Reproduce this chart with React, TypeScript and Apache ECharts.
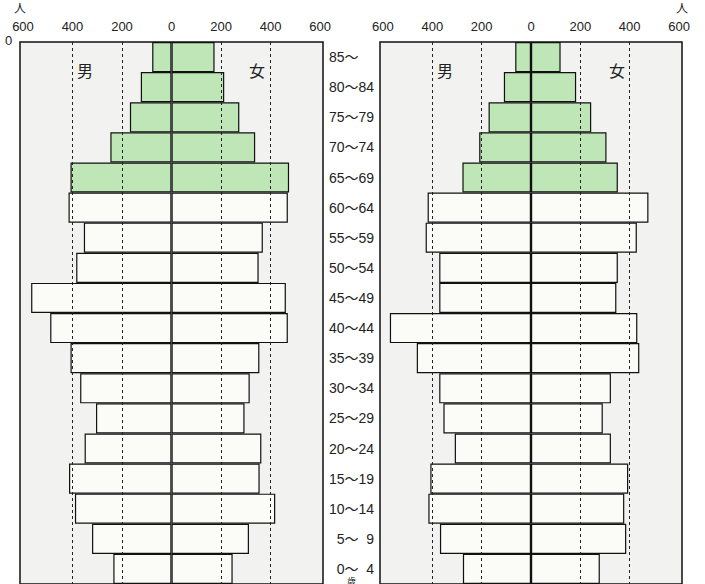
import React, { useEffect, useRef } from "react";
import * as echarts from "echarts";

// Age groups, top to bottom
const ages = [
  "85～", "80～84", "75～79", "70～74", "65～69", "60～64", "55～59", "50～54",
  "45～49", "40～44", "35～39", "30～34", "25～29", "20～24", "15～19", "10～14",
  "\u20075～\u20079", "\u20070～\u20074",
];
// Rows drawn in green (65 and over)
const elderly = [true, true, true, true, true, false, false, false, false, false, false, false, false, false, false, false, false, false];

// Left pyramid (persons)
const leftMale = [78, 124, 168, 247, 408, 416, 354, 385, 567, 490, 408, 369, 305, 351, 414, 390, 321, 235];
const leftFemale = [174, 213, 274, 338, 475, 470, 369, 352, 462, 470, 355, 316, 295, 363, 356, 419, 313, 247];
// Right pyramid (persons)
const rightMale = [64, 110, 172, 210, 278, 419, 427, 372, 372, 572, 463, 372, 355, 309, 408, 416, 369, 276];
const rightFemale = [120, 183, 244, 306, 352, 476, 429, 352, 346, 431, 439, 324, 291, 324, 394, 378, 386, 279];

const tickValues = [-600, -400, -200, 0, 200, 400, 600];
const gridValues = [-400, -200, 200, 400];

const GREEN = "#bfe6b6";
const WHITE = "#fbfbf7";
const FONT = "'Liberation Sans', 'Noto Sans CJK JP', sans-serif";
const JP = "'Noto Sans CJK JP', sans-serif";

function toData(vals: number[], sign: number) {
  return vals.map((v, i) => ({
    value: sign * v,
    itemStyle: { color: elderly[i] ? GREEN : WHITE },
  }));
}

export default function App() {
  const ref = useRef<HTMLDivElement>(null);
  useEffect(() => {
    if (!ref.current) return;
    const chart = echarts.init(ref.current, undefined, { renderer: "svg" });
    const xAxisBase = (gridIndex: number) => ({
      type: "value" as const,
      gridIndex,
      position: "top" as const,
      min: -612,
      max: 612,
      axisLine: { show: false },
      axisTick: { show: false },
      splitLine: { show: false },
      axisLabel: {
        customValues: tickValues,
        formatter: (v: number) => String(Math.abs(v)),
        color: "#222",
        fontSize: 13,
        fontFamily: FONT,
        margin: 9,
      },
    });
    const barStyle = { borderColor: "#111", borderWidth: 1.2 };
    const markLine = {
      silent: true,
      symbol: "none",
      label: { show: false },
      lineStyle: { color: "#222", type: [3, 3] as any, width: 1 },
      data: gridValues.map((v) => ({ xAxis: v })),
    };
    chart.setOption({
      animation: false,
      backgroundColor: "#ffffff",
      grid: [
        { left: 20, top: 42, width: 303, height: 543, show: true, backgroundColor: "#f2f3f1", borderColor: "#111", borderWidth: 1.5 },
        { left: 380, top: 42, width: 302, height: 543, show: true, backgroundColor: "#f2f3f1", borderColor: "#111", borderWidth: 1.5 },
      ],
      xAxis: [xAxisBase(0), xAxisBase(1)],
      yAxis: [
        {
          type: "category",
          gridIndex: 0,
          data: ages,
          inverse: true,
          position: "right",
          axisLine: { show: false },
          axisTick: { show: false },
          axisLabel: { align: "left", margin: 6, color: "#222", fontSize: 14, fontFamily: FONT },
        },
        {
          type: "category",
          gridIndex: 1,
          data: ages,
          inverse: true,
          axisLine: { show: false },
          axisTick: { show: false },
          axisLabel: { show: false },
        },
      ],
      series: [
        { type: "bar", xAxisIndex: 0, yAxisIndex: 0, stack: "L", barCategoryGap: "0%", data: toData(leftMale, -1), itemStyle: barStyle },
        { type: "bar", xAxisIndex: 0, yAxisIndex: 0, stack: "L", barCategoryGap: "0%", data: toData(leftFemale, 1), itemStyle: barStyle, markLine },
        { type: "bar", xAxisIndex: 1, yAxisIndex: 1, stack: "R", barCategoryGap: "0%", data: toData(rightMale, -1), itemStyle: barStyle },
        { type: "bar", xAxisIndex: 1, yAxisIndex: 1, stack: "R", barCategoryGap: "0%", data: toData(rightFemale, 1), itemStyle: barStyle, markLine },
      ],
      graphic: [
        { type: "text", left: 14, top: 1, style: { text: "人", fontSize: 12, fontFamily: JP, fill: "#222" } },
        { type: "text", left: 5, top: 34, style: { text: "0", fontSize: 13, fontFamily: FONT, fill: "#222" } },
        { type: "text", left: 676, top: 1, style: { text: "人", fontSize: 12, fontFamily: JP, fill: "#222" } },
        { type: "text", left: 77, top: 62, style: { text: "男", fontSize: 16, fontFamily: JP, fill: "#222" } },
        { type: "text", left: 249, top: 62, style: { text: "女", fontSize: 16, fontFamily: JP, fill: "#222" } },
        { type: "text", left: 437, top: 62, style: { text: "男", fontSize: 16, fontFamily: JP, fill: "#222" } },
        { type: "text", left: 609, top: 62, style: { text: "女", fontSize: 16, fontFamily: JP, fill: "#222" } },
        { type: "text", left: 347, top: 577, style: { text: "歳", fontSize: 9, fontFamily: JP, fill: "#222" } },
      ],
    });
    return () => chart.dispose();
  }, []);
  return (
    <div
      ref={ref}
      style={{ position: "absolute", left: 0, top: 0, width: 705, height: 584 }}
    />
  );
}
